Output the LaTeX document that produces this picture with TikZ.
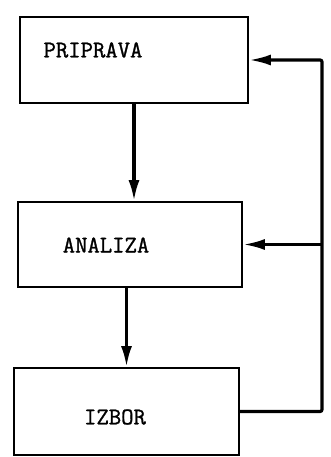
\documentclass[tikz,border=0pt]{standalone}
\usepackage{fontspec}
\usetikzlibrary{arrows.meta,calc}
\newfontfamily\typew{Latin Modern Mono}[FakeBold=1.2]
\begin{document}
\begin{tikzpicture}[x=1pt,y=-1pt,
  box/.style={draw,line width=1.8pt,minimum width=#1,inner sep=0pt},
  lbl/.style={font=\typew\fontsize{24}{24}\selectfont,inner sep=0pt},
  flow/.style={line width=3.2pt,-{Latex[length=21pt,width=11pt]}},
  back/.style={line width=3.2pt}]
\useasboundingbox (0,0) rectangle (330,457);
\node[box=228pt,minimum height=86pt] (b1) at (134,60) {};
\node[box=224pt,minimum height=85pt] (b2) at (130,244.5) {};
\node[box=225pt,minimum height=87pt] (b3) at (126.5,411.5) {};
\node[lbl] (t1) at (93,50) {PRIPRAVA};
\node[lbl] (t2) at (106,245) {ANALIZA};
\node[lbl] (t3) at (115,417) {IZBOR};
\coordinate (c) at (322,0);
\draw[flow] (b1.south) -- (b1.south |- b2.north);
\draw[flow] (b3.north |- b2.south) -- (b3.north);
\draw[back,-{Latex[length=22pt,width=11pt]},rounded corners=2pt] (b3.east) -- (b3.east -| c) -- (c |- b1.east) -- (b1.east);
\draw[back,-{Latex[length=22pt,width=11pt]}] (c |- b2.east) -- (b2.east);
\end{tikzpicture}
\end{document}
